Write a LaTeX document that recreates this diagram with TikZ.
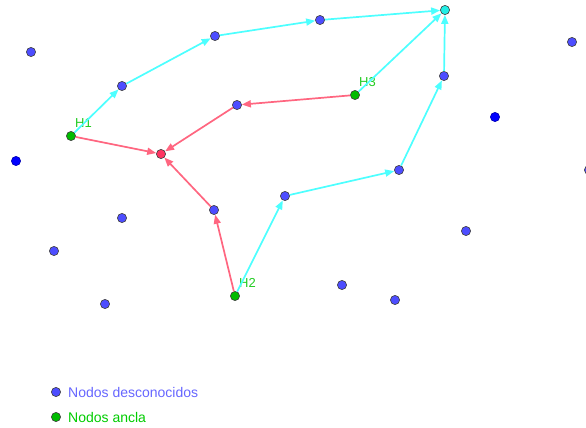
\documentclass[tikz,border=0pt]{standalone}
\usepackage{fontspec}
\setmainfont{Liberation Sans}
\usetikzlibrary{arrows.meta}
\definecolor{cyanl}{HTML}{4DFFFF}
\definecolor{pinkl}{HTML}{FF6680}
\definecolor{unkblue}{HTML}{4D4DFF}
\definecolor{pureblue}{HTML}{0000FF}
\definecolor{anchorgreen}{HTML}{00BB00}
\definecolor{targetred}{HTML}{FF3360}
\definecolor{targetcyan}{HTML}{22EEE6}
\definecolor{labgreen}{HTML}{22CC22}
\definecolor{legblue}{HTML}{6666FF}
\definecolor{leggreen}{HTML}{00CC00}
\begin{document}
\begin{tikzpicture}[x=1pt,y=-1pt,
  dot/.style={circle,draw=black!75,line width=0.6pt,minimum size=9.2pt,inner sep=0pt},
  unk/.style={dot,fill=unkblue},
  pblue/.style={dot,fill=pureblue,draw=pureblue!70!black},
  anc/.style={dot,fill=anchorgreen},
  tred/.style={dot,fill=targetred},
  tcyan/.style={dot,fill=targetcyan},
  lab/.style={font=\fontsize{13}{15}\selectfont,text=labgreen,inner sep=0pt,anchor=base west},
  legtext/.style={font=\fontsize{14}{16}\selectfont,inner sep=0pt,anchor=west},
  carrow/.style={draw=cyanl,line width=1.7pt,-{Triangle[length=9pt,width=7pt]}},
  parrow/.style={draw=pinkl,line width=1.7pt,-{Triangle[length=9pt,width=7pt]}},
]
\useasboundingbox (0,0) rectangle (586,428);
% unknown nodes
\node[unk] (u1) at (31,52) {};
\node[pblue] (b1) at (16,161) {};
\node[unk] (u2) at (122,86) {};
\node[unk] (u3) at (215,36) {};
\node[unk] (u4) at (320,20) {};
\node[unk] (u5) at (572,42) {};
\node[unk] (u6) at (237,105) {};
\node[unk] (u7) at (444,76) {};
\node[pblue] (b2) at (495,117) {};
\node[unk] (u8) at (589,170) {};
\node[unk] (u9) at (399,170) {};
\node[unk] (u10) at (285,196) {};
\node[unk] (u11) at (214,210) {};
\node[unk] (u12) at (122,218) {};
\node[unk] (u13) at (54,251) {};
\node[unk] (u14) at (466,231) {};
\node[unk] (u15) at (342,285) {};
\node[unk] (u16) at (395,300) {};
\node[unk] (u17) at (105,304) {};
% anchors and targets
\node[anc] (h1) at (71,136) {};
\node[anc] (h2) at (235,296) {};
\node[anc] (h3) at (355,95) {};
\node[tred] (r) at (161,154) {};
\node[tcyan] (c) at (445,10) {};
% labels
\node[lab] (h1l) at ([xshift=4pt,yshift=9pt]h1.center) {H1};
\node[lab] (h2l) at ([xshift=4pt,yshift=9pt]h2.center) {H2};
\node[lab] (h3l) at ([xshift=4pt,yshift=9pt]h3.center) {H3};
% cyan paths
\draw[carrow] (h1) -- (u2);
\draw[carrow] (u2) -- (u3);
\draw[carrow] (u3) -- (u4);
\draw[carrow] (u4) -- (c);
\draw[carrow] (h3) -- (c);
\draw[carrow] (h2) -- (u10);
\draw[carrow] (u10) -- (u9);
\draw[carrow] (u9) -- (u7);
\draw[carrow] (u7) -- (c);
% pink paths
\draw[parrow] (h1) -- (r);
\draw[parrow] (h3) -- (u6);
\draw[parrow] (u6) -- (r);
\draw[parrow] (h2) -- (u11);
\draw[parrow] (u11) -- (r);
% legend
\node[unk] (lg1) at (56,392) {};
\node[anc] (lg2) at (56,417) {};
\node[legtext,text=legblue] (lt1) at (68,392) {Nodos desconocidos};
\node[legtext,text=leggreen] (lt2) at (68,417) {Nodos ancla};
\end{tikzpicture}
\end{document}
